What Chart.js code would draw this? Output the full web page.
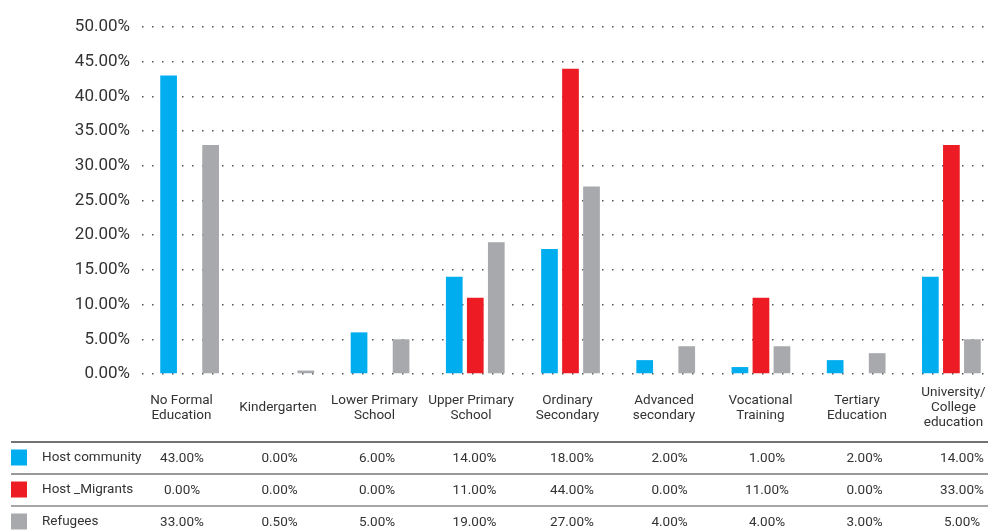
<!DOCTYPE html>
<html>
<head>
<meta charset="utf-8">
<script src="https://cdn.jsdelivr.net/npm/chart.js@4.4.1/dist/chart.umd.min.js"></script>
<style>
  html, body { margin: 0; padding: 0; background: #fff; overflow: hidden; }
  #wrap { position: relative; width: 1000px; height: 530px; }
</style>
</head>
<body>
<div id="wrap"><canvas id="eduChart"></canvas></div>
<script>
const categories = [
    ['No Formal', 'Education'],
    ['Kindergarten'],
    ['Lower Primary', 'School'],
    ['Upper Primary', 'School'],
    ['Ordinary', 'Secondary'],
    ['Advanced', 'secondary'],
    ['Vocational', 'Training'],
    ['Tertiary', 'Education'],
    ['University/', 'College', 'education']
];
const seriesNames = ['Host community', 'Host _Migrants', 'Refugees'];
const hostCommunity = [43, 0, 6, 14, 18, 2, 1, 2, 14];
const hostMigrants = [0, 0, 0, 11, 44, 0, 11, 0, 33];
const refugees = [33, 0.5, 5, 19, 27, 4, 4, 3, 5];
const yTicks = [0, 5, 10, 15, 20, 25, 30, 35, 40, 45, 50];

const COLORS = ['#00AEEF', '#ED1C24', '#A7A9AC'];
const FONT = "Roboto, 'Noto Sans', sans-serif";
const TEXT = '#333333';

// category labels and the data table underneath the plot
const dataTable = {
    id: 'dataTable',
    afterDraw(chart) {
        const {ctx} = chart;
        const labelX = i => 181.5 + i * 96.5;
        const cellX = i => 182 + i * 97.5;
        ctx.save();
        ctx.fillStyle = TEXT;
        ctx.textAlign = 'center';
        ctx.textBaseline = 'middle';
        ctx.font = '13.5px ' + FONT;
        categories.forEach((lines, i) => {
            const top = 408 - (lines.length - 1) * 15 / 2;
            lines.forEach((t, k) => ctx.fillText(t, labelX(i), top + k * 15));
        });

        const rows = [hostCommunity, hostMigrants, refugees];
        const lineY = [442, 474, 506];
        const lineCol = ['#444444', '#777777', '#888888'];
        rows.forEach((vals, r) => {
            ctx.strokeStyle = lineCol[r];
            ctx.lineWidth = 1.5;
            ctx.beginPath();
            ctx.moveTo(11, lineY[r]);
            ctx.lineTo(chart.width, lineY[r]);
            ctx.stroke();

            const cy = lineY[r] + 15.5;
            ctx.fillStyle = COLORS[r];
            ctx.fillRect(11, cy - 8, 16, 16);
            ctx.fillStyle = TEXT;
            ctx.font = '13.5px ' + FONT;
            ctx.textAlign = 'left';
            ctx.fillText(seriesNames[r], 42, cy);
            ctx.textAlign = 'center';
            vals.forEach((v, i) => ctx.fillText(v.toFixed(2) + '%', cellX(i), cy + 1));
        });
        ctx.restore();
    }
};

new Chart(document.getElementById('eduChart'), {
    type: 'bar',
    data: {
        labels: categories,
        datasets: [
            { label: seriesNames[0], data: hostCommunity, backgroundColor: COLORS[0] },
            { label: seriesNames[1], data: hostMigrants, backgroundColor: COLORS[1] },
            { label: seriesNames[2], data: refugees, backgroundColor: COLORS[2] }
        ]
    },
    plugins: [dataTable],
    options: {
        responsive: true, maintainAspectRatio: false, animation: false,
        devicePixelRatio: 1,
        layout: { padding: { top: 27, bottom: 156, left: 0, right: 1 } },
        datasets: { bar: { categoryPercentage: 0.662, barPercentage: 0.795 } },
        scales: {
            x: {
                ticks: { display: false },
                grid: { display: false, drawTicks: false },
                border: { display: false }
            },
            y: {
                min: 0, max: 50,
                afterBuildTicks: s => { s.ticks = yTicks.map(v => ({ value: v })); },
                afterFit: s => { s.width = 142; },
                ticks: {
                    padding: 12, color: TEXT,
                    font: { family: FONT, size: 17 },
                    callback: v => v.toFixed(2) + '%'
                },
                grid: { color: '#555555', lineWidth: 1.5, drawTicks: false },
                border: { display: false, dash: [1.5, 8.5] }
            }
        },
        plugins: { legend: { display: false }, tooltip: { enabled: false } }
    }
});
</script>
</body>
</html>
